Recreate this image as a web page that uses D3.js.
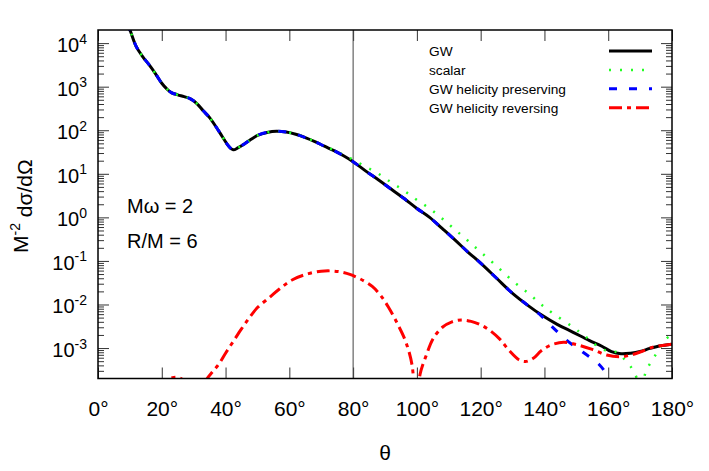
<!DOCTYPE html>
<html>
<head>
<meta charset="utf-8">
<script src="https://cdn.jsdelivr.net/npm/d3@7"></script>
<style>
  body { margin: 0; background: #fff; }
  text { font-family: "Liberation Sans", Arial, sans-serif; }
</style>
</head>
<body>
<div id="chart"></div>
<script>
// theta (deg), cross section values
const gw = [
  [9, 2.8e4], [10, 2.0e4], [12, 8300], [14, 4900], [16, 3200], [18, 2000], [20, 1200],
  [21.5, 900], [23, 730], [25, 650], [27, 590], [29, 525], [31, 410], [33, 280],
  [35, 195], [37, 120], [39, 71], [41, 43], [42.4, 35.5], [44, 40], [46, 49], [48, 62],
  [50, 76], [53, 89], [56, 95], [59, 91], [62, 81], [65, 68], [68, 55], [71, 43],
  [74, 34], [77, 26], [80, 19], [84, 11.5], [88, 7.2], [92, 4.4], [96, 2.7], [100, 1.6],
  [104, 1.0], [108, 0.55], [112, 0.30], [116, 0.16], [120, 0.089], [125, 0.040],
  [130, 0.018], [135, 0.0093], [139, 0.0058], [144, 0.0035], [149, 0.0023],
  [154, 0.0015], [158, 0.0011], [161, 0.00083], [164, 0.00074], [167, 0.00076],
  [170, 0.00083], [173, 0.00098], [176, 0.00112], [180, 0.00123]
];
const scalar = [
  [9, 2.8e4], [10, 2.0e4], [12, 8300], [14, 4900], [16, 3200], [18, 2000], [20, 1200],
  [21.5, 900], [23, 730], [25, 650], [27, 590], [29, 525], [31, 410], [33, 280],
  [35, 195], [37, 120], [39, 71], [41, 43], [42.4, 35.5], [44, 40], [46, 49], [48, 62],
  [50, 76], [53, 89], [56, 95], [59, 91], [62, 81], [65, 68], [68, 55], [71, 43],
  [74, 35], [77, 27], [80, 21], [84, 14.5], [88, 10], [92, 6.3], [96, 4.1], [100, 2.5],
  [104, 1.6], [108, 0.93], [112, 0.52], [116, 0.29], [120, 0.16], [125, 0.076],
  [130, 0.035], [135, 0.018], [139, 0.010], [143, 0.006], [149, 0.003], [153, 0.0018],
  [158, 0.00095], [161, 0.00083], [163, 0.00079], [165, 0.00056], [167, 0.00038],
  [169, 0.0002], [170, 0.0001], [171, 0.00018], [172, 0.00031], [174, 0.00056],
  [176, 0.00093], [178, 0.0016], [180, 0.002]
];
const preserving = [
  [9, 2.8e4], [10, 2.0e4], [12, 8300], [14, 4900], [16, 3200], [18, 2000], [20, 1200],
  [21.5, 900], [23, 730], [25, 650], [27, 590], [29, 525], [31, 410], [33, 280],
  [35, 195], [37, 120], [39, 71], [41, 43], [42.4, 35.5], [44, 40], [46, 49], [48, 62],
  [50, 76], [53, 89], [56, 95], [59, 91], [62, 81], [65, 68], [68, 55], [71, 43],
  [74, 34], [77, 26], [80, 19], [84, 11.5], [88, 7.2], [92, 4.4], [96, 2.7], [100, 1.6],
  [104, 1.0], [108, 0.55], [112, 0.30], [116, 0.16], [120, 0.089], [125, 0.040],
  [130, 0.018], [135, 0.0093], [139, 0.0055], [142, 0.0033], [147, 0.0015],
  [152, 0.00081], [157, 0.00043], [160.5, 0.00019], [162, 0.0001]
];
const reversing = [
  [10, 1e-5], [15, 4e-5], [18, 1e-4], [21, 1.75e-4], [23, 2.05e-4], [24.5, 2.15e-4],
  [26, 2.0e-4], [28, 1.4e-4], [30, 2.5e-5], [32, 1e-4], [34, 1.9e-4], [36, 2.9e-4],
  [38, 4.4e-4], [40, 7.6e-4], [42.5, 1.45e-3], [45, 2.75e-3], [47.5, 5e-3],
  [50, 8.5e-3], [54, 0.015], [57, 0.023], [61, 0.037], [66, 0.051], [70, 0.058],
  [73, 0.059], [76, 0.056], [79, 0.049], [83, 0.036], [86, 0.026], [88.5, 0.0166],
  [91, 0.0089], [94, 0.0035], [96.5, 0.0014], [98.5, 4e-4], [99.7, 2.5e-5],
  [101, 2.5e-4], [103, 7e-4], [105, 1.6e-3], [108, 3.0e-3], [111, 4.0e-3],
  [114, 4.4e-3], [117, 4.1e-3], [120, 3.4e-3], [123, 2.5e-3], [126, 1.6e-3],
  [129, 8.7e-4], [132, 5.4e-4], [134, 4.9e-4], [136.5, 5.8e-4], [139, 8.7e-4],
  [142, 1.17e-3], [146, 1.35e-3], [150, 1.2e-3], [155, 9.3e-4], [159.5, 6.9e-4],
  [163.5, 6.3e-4], [167, 6.9e-4], [170, 8.1e-4], [174, 1.05e-3], [177, 1.15e-3],
  [180, 1.23e-3]
];

const xTicks = [0, 20, 40, 60, 80, 100, 120, 140, 160, 180];
const yMajors = [1e-3, 1e-2, 1e-1, 1, 10, 100, 1000, 10000];
const legendNames = ["GW", "scalar", "GW helicity preserving", "GW helicity reversing"];

const margin = {top: 30, right: 37, bottom: 92.5, left: 98},
    width = 709 - margin.left - margin.right,
    height = 471 - margin.top - margin.bottom;

const svg = d3.select("#chart")
    .append("svg")
    .attr("width", 709)
    .attr("height", 471);

const g = svg.append("g")
    .attr("transform", `translate(${margin.left},${margin.top})`);

const x = d3.scaleLinear().domain([0, 180]).range([0, width]);
const y = d3.scaleLog().domain([2e-4, 2e4]).range([height, 0]);

// minor log ticks
const yMinors = [];
for (let e = -4; e <= 4; e++) {
    for (let m = 2; m <= 9; m++) {
        const v = m * Math.pow(10, e);
        if (v > 2e-4 && v < 2e4) yMinors.push(v);
    }
}

// bottom axis, ticks point inward
const xAxis = g.append("g")
    .attr("transform", `translate(0,${height})`)
    .call(d3.axisBottom(x).tickValues(xTicks).tickSizeInner(-11).tickSizeOuter(0)
        .tickPadding(23).tickFormat(d => d + "°"));
xAxis.select(".domain").remove();
xAxis.selectAll("line").attr("stroke", "#333");
xAxis.selectAll("text").attr("font-size", "21px").attr("fill", "#000")
    .attr("font-family", "Liberation Sans, Arial, sans-serif");

// top axis
const xTop = g.append("g")
    .call(d3.axisTop(x).tickValues(xTicks).tickSizeInner(-11).tickSizeOuter(0).tickFormat(""));
xTop.select(".domain").remove();
xTop.selectAll("line").attr("stroke", "#333");

// left axis majors with 10^n labels
const yAxis = g.append("g")
    .call(d3.axisLeft(y).tickValues(yMajors).tickSizeInner(-11).tickSizeOuter(0).tickPadding(11));
yAxis.select(".domain").remove();
yAxis.selectAll("line").attr("stroke", "#333");
yAxis.selectAll("text")
    .attr("font-size", "20px")
    .attr("fill", "#000")
    .attr("font-family", "Liberation Sans, Arial, sans-serif")
    .attr("dy", "0.42em")
    .each(function (d) {
        const t = d3.select(this);
        const exp = Math.round(Math.log10(d));
        t.text("");
        t.append("tspan").text("10");
        t.append("tspan").attr("dy", "-0.6em").attr("font-size", "14px").text(exp);
    });

// left minor ticks
const yMinor = g.append("g")
    .call(d3.axisLeft(y).tickValues(yMinors).tickSizeInner(-6).tickSizeOuter(0).tickFormat(""));
yMinor.select(".domain").remove();
yMinor.selectAll("line").attr("stroke", "#333");

// right axis majors and minors
const yRight = g.append("g")
    .attr("transform", `translate(${width},0)`)
    .call(d3.axisRight(y).tickValues(yMajors).tickSizeInner(-11).tickSizeOuter(0).tickFormat(""));
yRight.select(".domain").remove();
yRight.selectAll("line").attr("stroke", "#333");
const yRightMinor = g.append("g")
    .attr("transform", `translate(${width},0)`)
    .call(d3.axisRight(y).tickValues(yMinors).tickSizeInner(-6).tickSizeOuter(0).tickFormat(""));
yRightMinor.select(".domain").remove();
yRightMinor.selectAll("line").attr("stroke", "#333");

// vertical line at 80 deg
g.append("line")
    .attr("x1", x(80)).attr("x2", x(80))
    .attr("y1", 0).attr("y2", height)
    .attr("stroke", "#444")
    .attr("stroke-width", 1);

// clip for curves
g.append("clipPath").attr("id", "clip")
    .append("rect").attr("width", width).attr("height", height);

const line = d3.line()
    .x(d => x(d[0]))
    .y(d => y(d[1]))
    .curve(d3.curveCatmullRom.alpha(0.5));

const series = [
    {data: gw, color: "#000", dash: null, w: 3},
    {data: scalar, color: "#22ff22", dash: "2,9", w: 2.5},
    {data: preserving, color: "#0000ff", dash: "8,12", w: 3},
    {data: reversing, color: "#ff0000", dash: "13,5,4,5", w: 3}
];

const curves = g.append("g").attr("clip-path", "url(#clip)");
series.forEach(s => {
    curves.append("path")
        .datum(s.data)
        .attr("d", line)
        .attr("fill", "none")
        .attr("stroke", s.color)
        .attr("stroke-width", s.w)
        .attr("stroke-dasharray", s.dash);
});

// frame
g.append("rect")
    .attr("width", width)
    .attr("height", height)
    .attr("fill", "none")
    .attr("stroke", "#000")
    .attr("stroke-width", 1.5);

// legend
const legend = svg.append("g");
legendNames.forEach((name, i) => {
    const yy = 56 + i * 18.9;
    legend.append("text")
        .attr("x", 429)
        .attr("y", yy)
        .attr("font-size", "13.7px")
        .text(name);
    legend.append("line")
        .attr("x1", 609).attr("x2", 652)
        .attr("y1", yy - 5).attr("y2", yy - 5)
        .attr("stroke", series[i].color)
        .attr("stroke-width", series[i].w)
        .attr("stroke-dasharray", series[i].dash);
});

// annotations
svg.append("text").attr("x", 127).attr("y", 213).attr("font-size", "20px").text("Mω = 2");
svg.append("text").attr("x", 127).attr("y", 248).attr("font-size", "20px").text("R/M = 6");

// axis titles
svg.append("text")
    .attr("x", (margin.left + margin.left + width) / 2)
    .attr("y", 460)
    .attr("text-anchor", "middle")
    .attr("font-size", "21px")
    .text("θ");

const yTitle = svg.append("text")
    .attr("transform", "translate(28,253) rotate(-90)")
    .attr("font-size", "21px");
yTitle.append("tspan").text("M");
yTitle.append("tspan").attr("dy", "-0.6em").attr("font-size", "14px").text("-2");
yTitle.append("tspan").attr("dy", "0.6em").text(" dσ/dΩ");
</script>
</body>
</html>
